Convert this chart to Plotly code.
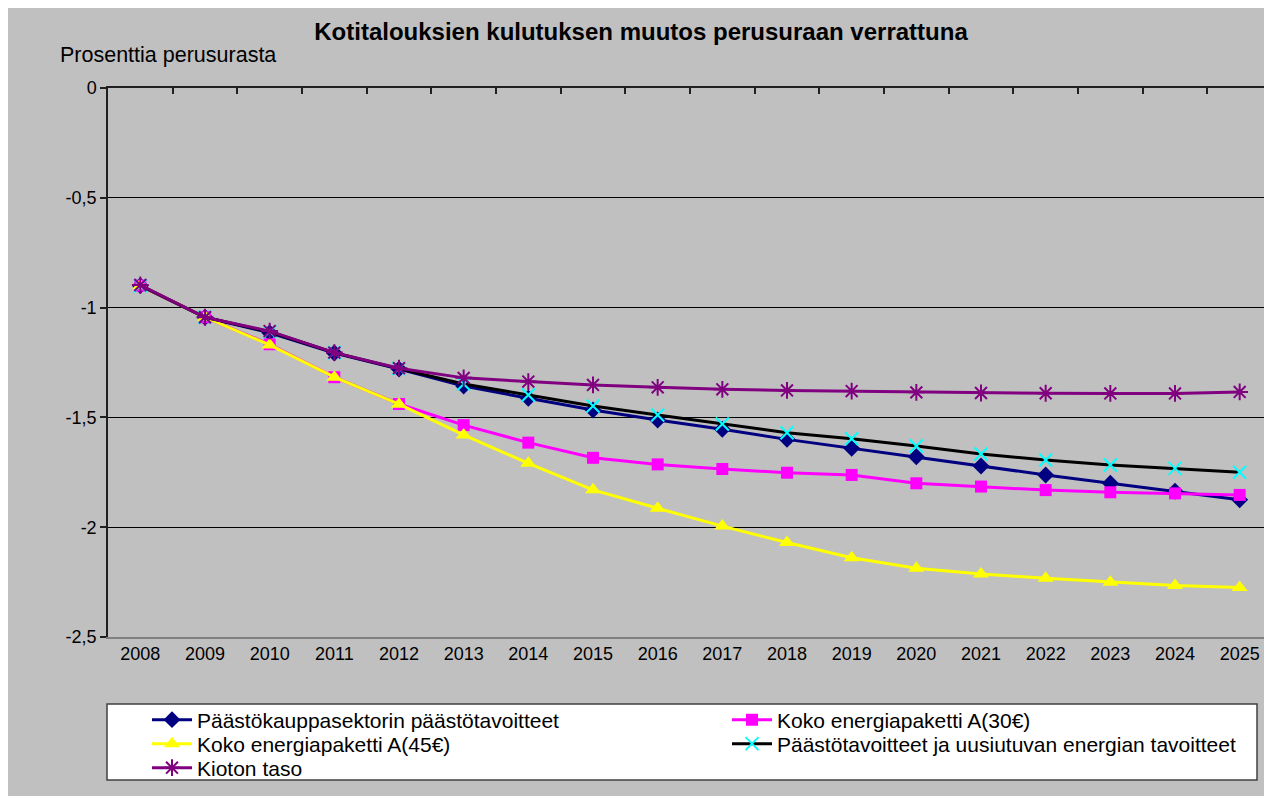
import plotly.graph_objects as go

years = [str(y) for y in range(2008, 2026)]

paastokauppa = [-0.90, -1.044, -1.115, -1.207, -1.280, -1.357, -1.413, -1.466, -1.512, -1.554,
                -1.600, -1.641, -1.679, -1.721, -1.762, -1.800, -1.836, -1.875]
koko30 = [-0.90, -1.044, -1.167, -1.317, -1.439, -1.535, -1.615, -1.684, -1.714, -1.735,
          -1.752, -1.762, -1.800, -1.815, -1.831, -1.841, -1.846, -1.853]
koko45 = [-0.90, -1.044, -1.170, -1.317, -1.440, -1.580, -1.709, -1.830, -1.914, -1.995,
          -2.070, -2.139, -2.187, -2.213, -2.233, -2.251, -2.266, -2.275]
uusiutuva = [-0.90, -1.044, -1.110, -1.205, -1.278, -1.348, -1.398, -1.448, -1.489, -1.530,
             -1.570, -1.597, -1.630, -1.667, -1.694, -1.717, -1.732, -1.750]
kioto = [-0.897, -1.044, -1.107, -1.205, -1.276, -1.320, -1.337, -1.352, -1.363, -1.372,
         -1.377, -1.380, -1.386, -1.389, -1.390, -1.391, -1.391, -1.384]

names = ["Päästökauppasektorin päästötavoitteet", "Koko energiapaketti A(30€)",
         "Koko energiapaketti A(45€)", "Päästötavoitteet ja uusiutuvan energian tavoitteet",
         "Kioton taso"]

ytickvals = [0, -0.5, -1, -1.5, -2, -2.5]
yticktext = ["0", "-0,5", "-1", "-1,5", "-2", "-2,5"]

FONT = "Liberation Sans, Arial, sans-serif"
GRAY = "#C0C0C0"

W, H = 1272, 796
L, T, R, B = 100, 80, 1264, 629
pw, ph = R - L, B - T


def px(x):
    return (x - L) / pw


def py(y):
    return (B - y) / ph


fig = go.Figure()
fig.add_trace(go.Scatter(x=years, y=paastokauppa, name=names[0], mode="lines+markers",
                         line=dict(color="#000080", width=3),
                         marker=dict(symbol="diamond", size=13, color="#000080"),
                         legend="legend"))
fig.add_trace(go.Scatter(x=years, y=koko30, name=names[1], mode="lines+markers",
                         line=dict(color="#FF00FF", width=3),
                         marker=dict(symbol="square", size=12, color="#FF00FF"),
                         legend="legend2"))
fig.add_trace(go.Scatter(x=years, y=koko45, name=names[2], mode="lines+markers",
                         line=dict(color="#FFFF00", width=3),
                         marker=dict(symbol="triangle-up", size=14, color="#FFFF00"),
                         legend="legend3"))
fig.add_trace(go.Scatter(x=years, y=uusiutuva, name=names[3], mode="lines+markers",
                         line=dict(color="#000000", width=3),
                         marker=dict(symbol="x-thin-open", size=13, color="#00FFFF",
                                     line=dict(color="#00FFFF", width=2)),
                         legend="legend4"))
fig.add_trace(go.Scatter(x=years, y=kioto, name=names[4], mode="lines+markers",
                         line=dict(color="#800080", width=3),
                         marker=dict(symbol="asterisk-open", size=14, color="#800080",
                                     line=dict(color="#800080", width=2)),
                         legend="legend5"))

# dummy trace on top axis so the top tick marks get drawn
fig.add_trace(go.Scatter(x=years, y=[None] * len(years), xaxis="x2", showlegend=False,
                         hoverinfo="skip", mode="lines"))

shapes = [
    dict(type="rect", xref="paper", yref="paper", x0=px(99), x1=px(1249), y0=py(772), y1=py(696),
         fillcolor="white", line=dict(color="#404040", width=1.5), layer="below"),
]


def leg(xpix, ypix):
    return dict(x=px(xpix), y=py(ypix), xanchor="left", yanchor="middle", orientation="v",
                bgcolor="rgba(0,0,0,0)", borderwidth=0, itemwidth=40,
                font=dict(size=21, family=FONT, color="black"), itemclick=False)


fig.update_layout(
    width=W, height=H,
    margin=dict(l=L, r=W - R, t=T, b=H - B, pad=0),
    paper_bgcolor=GRAY, plot_bgcolor=GRAY,
    font=dict(family=FONT, color="black", size=18),
    title=dict(text="<b>Kotitalouksien kulutuksen muutos perusuraan verrattuna</b>",
               x=633 / W, xanchor="center", xref="container",
               y=1 - 24 / H, yanchor="middle", yref="container",
               font=dict(size=24, family=FONT, color="black")),
    xaxis=dict(type="category", range=[-0.5, 17.5], tickson="boundaries",
               ticks="", showgrid=False, showline=True, linecolor="#808080", linewidth=1.5,
               tickfont=dict(size=18), zeroline=False),
    xaxis2=dict(type="category", overlaying="x", side="top", matches="x", tickson="boundaries",
                range=[-0.5, 17.5], ticks="inside", ticklen=6, tickcolor="#202020", tickwidth=1.5,
                showticklabels=False, showline=True, linecolor="#202020", linewidth=1.5,
                showgrid=False, zeroline=False),
    yaxis=dict(range=[-2.5, 0], tickvals=ytickvals, ticktext=yticktext,
               ticks="outside", ticklen=6, tickcolor="#202020", tickwidth=1.5,
               showline=True, linecolor="#202020", linewidth=1.5,
               showgrid=True, gridcolor="#000000", gridwidth=1, zeroline=False,
               tickfont=dict(size=18)),
    shapes=shapes,
    annotations=[dict(text="Prosenttia perusurasta", xref="paper", yref="paper",
                      x=px(50), y=py(47), xanchor="left", yanchor="middle",
                      showarrow=False, font=dict(size=21.5, family=FONT, color="black"))],
    legend=leg(139, 712),
    legend2=leg(719, 712),
    legend3=leg(139, 736),
    legend4=leg(719, 736),
    legend5=leg(139, 760),
)

fig.write_html("out.html")
